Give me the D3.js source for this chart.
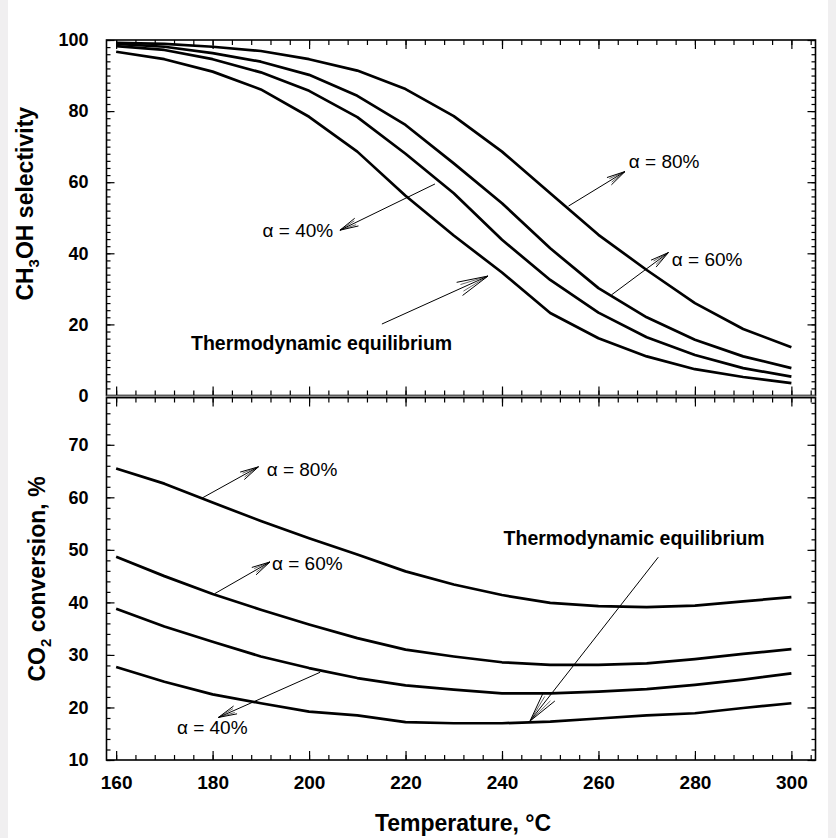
<!DOCTYPE html>
<html>
<head>
<meta charset="utf-8">
<script src="https://cdn.jsdelivr.net/npm/d3@7"></script>
<style>
  html, body { margin: 0; padding: 0; background: #ffffff; }
  svg { display: block; font-family: "Liberation Sans", Arial, Helvetica, sans-serif; }
</style>
</head>
<body>
<svg id="chart" width="836" height="838"></svg>
<script>
// ---------------- DATA ----------------
const temperatures = [160, 170, 180, 190, 200, 210, 220, 230, 240, 250, 260, 270, 280, 290, 300];

// CH3OH selectivity, %
const selEquilibrium = [96.7, 94.6, 91.1, 86.1, 78.4, 68.6, 56.2, 45.0, 34.6, 23.2, 16.1, 11.0, 7.4, 5.2, 3.5];
const selAlpha40     = [98.3, 97.2, 94.6, 90.9, 85.7, 78.3, 68.0, 56.9, 43.8, 32.5, 23.3, 16.4, 11.4, 7.7, 5.3];
const selAlpha60     = [98.9, 98.1, 96.3, 93.9, 90.2, 84.3, 76.1, 65.3, 54.1, 41.4, 30.2, 22.0, 15.7, 11.0, 7.7];
const selAlpha80     = [99.2, 98.9, 98.1, 96.9, 94.6, 91.4, 86.2, 78.6, 68.6, 56.9, 45.2, 35.3, 26.0, 18.7, 13.6];

// CO2 conversion, %
const convEquilibrium = [27.7, 24.9, 22.5, 20.8, 19.2, 18.5, 17.2, 17.0, 17.0, 17.3, 17.9, 18.5, 18.9, 19.9, 20.8];
const convAlpha40     = [38.8, 35.4, 32.5, 29.7, 27.5, 25.6, 24.2, 23.4, 22.7, 22.7, 23.0, 23.5, 24.3, 25.3, 26.5];
const convAlpha60     = [48.7, 45.0, 41.6, 38.6, 35.8, 33.2, 31.0, 29.7, 28.6, 28.1, 28.1, 28.4, 29.2, 30.2, 31.1];
const convAlpha80     = [65.5, 62.6, 59.0, 55.5, 52.2, 49.1, 45.9, 43.4, 41.4, 39.9, 39.3, 39.1, 39.4, 40.2, 41.0];

// tick values
const xTickLabels = [160, 180, 200, 220, 240, 260, 280, 300];
const selTickLabels = [0, 20, 40, 60, 80, 100];
const convTickLabels = [10, 20, 30, 40, 50, 60, 70];

// annotations (data coordinates): arrow from (x1,y1) on curve to (x2,y2); label at (tx,ty)
const selAnnotations = [
  { text: "\u03b1 = 80%", x1: 253.8, y1: 53.3, x2: 265.5, y2: 63.0, tx: 266.3, ty: 64.0, anchor: "start", bold: false },
  { text: "\u03b1 = 60%", x1: 262.7, y1: 28.3, x2: 274.5, y2: 40.2, tx: 275.2, ty: 36.5, anchor: "start", bold: false },
  { text: "\u03b1 = 40%", x1: 226.1, y1: 59.5, x2: 206.4, y2: 46.5, tx: 205.0, ty: 44.7, anchor: "end", bold: false },
  { text: "Thermodynamic equilibrium", x1: 215.1, y1: 20.1, x2: 237.1, y2: 33.6, tx: 202.6, ty: 12.7, anchor: "middle", bold: true }
];
const convAnnotations = [
  { text: "\u03b1 = 80%", x1: 177.7, y1: 59.8, x2: 189.5, y2: 65.8, tx: 191.2, ty: 64.0, anchor: "start", bold: false },
  { text: "\u03b1 = 60%", x1: 180.5, y1: 41.7, x2: 191.9, y2: 47.7, tx: 192.3, ty: 46.2, anchor: "start", bold: false },
  { text: "\u03b1 = 40%", x1: 202.3, y1: 26.7, x2: 181.2, y2: 18.1, tx: 172.6, ty: 14.9, anchor: "start", bold: false },
  { text: "Thermodynamic equilibrium", x1: 272.4, y1: 48.6, x2: 245.8, y2: 17.4, tx: 267.4, ty: 50.9, anchor: "middle", bold: true }
];

// ---------------- DRAWING ----------------
const svg = d3.select("#chart");

// light grey page edges
svg.append("rect").attr("x", 0).attr("y", 0).attr("width", 8).attr("height", 838).attr("fill", "#f0eff0");
svg.append("rect").attr("x", 828).attr("y", 0).attr("width", 8).attr("height", 838).attr("fill", "#f0eff0");

const left = 106.5, right = 815.5;
const topPanel = { top: 40, bottom: 395.5 };
const botPanel = { top: 397.5, bottom: 760 };

const x = d3.scaleLinear().domain([158, 305]).range([left, right]);
const ySel = d3.scaleLinear().domain([0, 100]).range([topPanel.bottom, topPanel.top]);
const yConv = d3.scaleLinear().domain([10, 79]).range([botPanel.bottom, botPanel.top]);

const xMinor = d3.range(160, 305, 4);
const selMinor = d3.range(0, 101, 2);
const convMinor = d3.range(10, 79, 2);

function styleAxis(g) {
  g.select(".domain").remove();
  g.selectAll(".tick line").attr("stroke", "#000").attr("stroke-width", 1.2);
}

function drawPanel(y, panel, majorY, minorY, showXLabels) {
  const g = svg.append("g");
  // frame
  g.append("rect")
    .attr("x", left).attr("y", panel.top)
    .attr("width", right - left).attr("height", panel.bottom - panel.top)
    .attr("fill", "#fff").attr("stroke", "#000").attr("stroke-width", 1.6);

  // left axis
  g.append("g").attr("transform", `translate(${left},0)`)
    .call(d3.axisLeft(y).tickValues(minorY).tickSize(-4).tickFormat(""))
    .call(styleAxis);
  g.append("g").attr("transform", `translate(${left},0)`)
    .call(d3.axisLeft(y).tickValues(majorY).tickSize(-8).tickPadding(18).tickFormat(d3.format("d")))
    .call(styleAxis)
    .call(a => a.selectAll("text").attr("font-size", 18).attr("font-weight", "bold").attr("fill", "#000"));
  // right axis
  g.append("g").attr("transform", `translate(${right},0)`)
    .call(d3.axisRight(y).tickValues(minorY).tickSize(-4).tickFormat(""))
    .call(styleAxis);
  g.append("g").attr("transform", `translate(${right},0)`)
    .call(d3.axisRight(y).tickValues(majorY).tickSize(-8).tickFormat(""))
    .call(styleAxis);
  // top axis
  g.append("g").attr("transform", `translate(0,${panel.top})`)
    .call(d3.axisTop(x).tickValues(xMinor).tickSize(-5).tickFormat(""))
    .call(styleAxis);
  g.append("g").attr("transform", `translate(0,${panel.top})`)
    .call(d3.axisTop(x).tickValues(xTickLabels).tickSize(-9).tickFormat(""))
    .call(styleAxis);
  // bottom axis
  g.append("g").attr("transform", `translate(0,${panel.bottom})`)
    .call(d3.axisBottom(x).tickValues(xMinor).tickSize(-5).tickFormat(""))
    .call(styleAxis);
  const bx = g.append("g").attr("transform", `translate(0,${panel.bottom})`)
    .call(d3.axisBottom(x).tickValues(xTickLabels).tickSize(-9).tickPadding(16)
      .tickFormat(showXLabels ? d3.format("d") : ""))
    .call(styleAxis);
  bx.selectAll("text").attr("font-size", 19).attr("font-weight", "bold").attr("fill", "#000");
  return g;
}

const gTop = drawPanel(ySel, topPanel, selTickLabels, selMinor, false);
const gBot = drawPanel(yConv, botPanel, convTickLabels, convMinor, true);

// panel junction (grey double line)
svg.append("rect").attr("x", left).attr("y", topPanel.bottom)
  .attr("width", right - left).attr("height", botPanel.top - topPanel.bottom)
  .attr("fill", "#b8b8b8");
svg.append("line").attr("x1", left).attr("x2", right)
  .attr("y1", botPanel.top).attr("y2", botPanel.top)
  .attr("stroke", "#000").attr("stroke-width", 1.4);

// curves
function drawCurves(series, y) {
  const line = d3.line().x((d, i) => x(temperatures[i])).y(d => y(d));
  series.forEach(s => {
    svg.append("path").datum(s)
      .attr("d", line)
      .attr("fill", "none").attr("stroke", "#000")
      .attr("stroke-width", 2.7).attr("stroke-linejoin", "round");
  });
}
drawCurves([selEquilibrium, selAlpha40, selAlpha60, selAlpha80], ySel);
drawCurves([convEquilibrium, convAlpha40, convAlpha60, convAlpha80], yConv);

// annotations
function drawAnnotations(list, y) {
  list.forEach(a => {
    const X1 = x(a.x1), Y1 = y(a.y1), X2 = x(a.x2), Y2 = y(a.y2);
    svg.append("line").attr("x1", X1).attr("y1", Y1).attr("x2", X2).attr("y2", Y2)
      .attr("stroke", "#000").attr("stroke-width", 1);
    const ang = Math.atan2(Y2 - Y1, X2 - X1);
    const len = a.bold ? 32 : 19;
    const half = 13 * Math.PI / 180;
    [half, -half, half * 0.55, -half * 0.55].forEach((h, k) => {
      const l = k < 2 ? len : len * 0.9;
      svg.append("line")
        .attr("x1", X2).attr("y1", Y2)
        .attr("x2", X2 - l * Math.cos(ang + h)).attr("y2", Y2 - l * Math.sin(ang + h))
        .attr("stroke", "#000").attr("stroke-width", k < 2 ? 1 : 0.6);
    });
    svg.append("text")
      .attr("x", x(a.tx)).attr("y", y(a.ty))
      .attr("text-anchor", a.anchor)
      .attr("font-size", a.bold ? 19.5 : 19)
      .attr("font-weight", a.bold ? "bold" : "normal")
      .attr("fill", "#000")
      .text(a.text);
  });
}
drawAnnotations(selAnnotations, ySel);
drawAnnotations(convAnnotations, yConv);

// axis titles
const t1 = svg.append("text")
  .attr("transform", `translate(33,${(topPanel.top + topPanel.bottom) / 2 - 14}) rotate(-90)`)
  .attr("text-anchor", "middle").attr("font-size", 23).attr("font-weight", "bold");
t1.append("tspan").text("CH");
t1.append("tspan").attr("font-size", 15).attr("dy", 6).text("3");
t1.append("tspan").attr("dy", -6).text("OH selectivity");

const t2 = svg.append("text")
  .attr("transform", `translate(45,${579}) rotate(-90)`)
  .attr("text-anchor", "middle").attr("font-size", 23).attr("font-weight", "bold");
t2.append("tspan").text("CO");
t2.append("tspan").attr("font-size", 15).attr("dy", 6).text("2");
t2.append("tspan").attr("dy", -6).text(" conversion, %");

svg.append("text")
  .attr("x", (left + right) / 2 + 2).attr("y", 831)
  .attr("text-anchor", "middle").attr("font-size", 23).attr("font-weight", "bold")
  .text("Temperature, \u00b0C");
</script>
</body>
</html>
